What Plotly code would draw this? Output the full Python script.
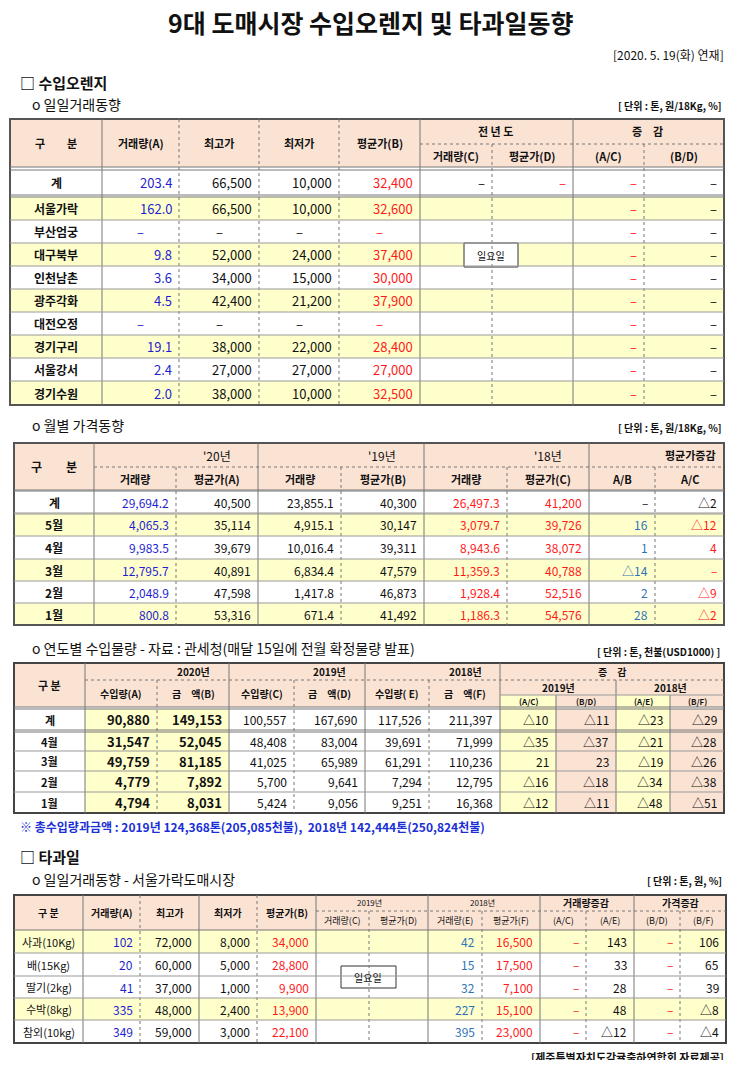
import plotly.graph_objects as go

FONT = "Noto Sans CJK KR"
PEACH = "#fbe3d4"
YEL = "#ffffcc"
BLUE = "#1f1fd0"
RED = "#ff1a1a"
SBLUE = "#2e75b6"
BLK = "#111111"

# ---- 수입오렌지 일일거래동향 ----
markets = ["서울가락", "부산엄궁", "대구북부", "인천남촌", "광주각화", "대전오정", "경기구리", "서울강서", "경기수원"]
day_vol = [162.0, None, 9.8, 3.6, 4.5, None, 19.1, 2.4, 2.0]
day_hi = [66500, None, 52000, 34000, 42400, None, 38000, 27000, 38000]
day_lo = [10000, None, 24000, 15000, 21200, None, 22000, 27000, 10000]
day_avg = [32600, None, 37400, 30000, 37900, None, 28400, 27000, 32500]
day_total = [203.4, 66500, 10000, 32400]

# ---- 월별 가격동향 ----
months = ["계", "5월", "4월", "3월", "2월", "1월"]
v20 = [29694.2, 4065.3, 9983.5, 12795.7, 2048.9, 800.8]
p20 = [40500, 35114, 39679, 40891, 47598, 53316]
v19 = [23855.1, 4915.1, 10016.4, 6834.4, 1417.8, 671.4]
p19 = [40300, 30147, 39311, 47579, 46873, 41492]
v18 = [26497.3, 3079.7, 8943.6, 11359.3, 1928.4, 1186.3]
p18 = [41200, 39726, 38072, 40788, 52516, 54576]
chg_ab = [None, 16, 1, -14, 2, 28]
chg_ac = [-2, -12, 4, None, -9, -2]

# ---- 연도별 수입물량 ----
imp_rows = ["계", "4월", "3월", "2월", "1월"]
imp_a = [90880, 31547, 49759, 4779, 4794]
imp_b = [149153, 52045, 81185, 7892, 8031]
imp_c = [100557, 48408, 41025, 5700, 5424]
imp_d = [167690, 83004, 65989, 9641, 9056]
imp_e = [117526, 39691, 61291, 7294, 9251]
imp_f = [211397, 71999, 110236, 12795, 16368]
imp_ac = [-10, -35, 21, -16, -12]
imp_bd = [-11, -37, 23, -18, -11]
imp_ae = [-23, -21, -19, -34, -48]
imp_bf = [-29, -28, -26, -38, -51]

# ---- 타과일 ----
fruits = ["사과(10Kg)", "배(15Kg)", "딸기(2kg)", "수박(8kg)", "참외(10kg)"]
fr_vol = [102, 20, 41, 335, 349]
fr_hi = [72000, 60000, 37000, 48000, 59000]
fr_lo = [8000, 5000, 1000, 2400, 3000]
fr_avg = [34000, 28800, 9900, 13900, 22100]
fr_vol18 = [42, 15, 32, 227, 395]
fr_avg18 = [16500, 17500, 7100, 15100, 23000]
fr_ae = [143, 33, 28, 48, -12]
fr_bf = [106, 65, 39, -8, -4]

fig = go.Figure()
shapes = []
notes = []


def fmt(v, dec=0):
    if v is None:
        return "–"
    s = f"{abs(v):,.{dec}f}"
    return ("△" + s) if v < 0 else s


def rect(x0, y0, x1, y1, fill=None, lw=0, lc="#444", dash="solid"):
    shapes.append(dict(type="rect", x0=x0, y0=y0, x1=x1, y1=y1, layer="below",
                       fillcolor=fill or "rgba(0,0,0,0)",
                       line=dict(width=lw, color=lc, dash=dash)))


def line(x0, y0, x1, y1, lw=1, lc="#666", dash="solid"):
    shapes.append(dict(type="line", x0=x0, y0=y0, x1=x1, y1=y1,
                       line=dict(width=lw, color=lc, dash=dash)))


def txt(x, y, s, color=BLK, size=12, anchor="center", bold=False):
    if bold:
        s = "<b>" + s + "</b>"
    notes.append(dict(x=x, y=y, text=s, showarrow=False, xanchor=anchor, yanchor="middle",
                      font=dict(family=FONT, size=size, color=color)))


def cell(xs, i, y0, y1, s, color=BLK, size=12, bold=False, align=None):
    x0, x1 = xs[i], xs[i + 1]
    if align is None:
        align = "center" if s in ("–", "") or not any(c.isdigit() for c in s) else "right"
    ym = (y0 + y1) / 2
    if align == "right":
        txt(x1 - 5, ym, s, color, size, "right", bold)
    else:
        txt((x0 + x1) / 2, ym, s, color, size, "center", bold)


# ===================== 제목 =====================
txt(370, 22, "9대 도매시장 수입오렌지 및 타과일동향", BLK, 25, bold=True)
txt(726, 54, "[2020. 5. 19(화) 연재]", BLK, 12, "right")
txt(18, 82, "□ 수입오렌지", BLK, 15, "left", bold=True)
txt(30, 104, "o 일일거래동향", BLK, 14, "left")
txt(724, 105, "[ 단위 : 톤, 원/18Kg, %]", BLK, 10, "right", bold=True)

# ===================== 표1 =====================
xs1 = [10, 102, 179, 259, 339, 420, 492, 573, 644, 724]
hy0, hym, hy1 = 119, 144, 167
rect(xs1[0], hy0, xs1[-1], hy1, PEACH)
rows1_y = [170, 195, 197, 220, 243, 266, 289, 312, 335, 358, 381, 405]
for k, m in enumerate(markets):
    y0, y1 = rows1_y[k + 2], rows1_y[k + 3]
    if k in (0, 2, 4, 6, 8):
        rect(xs1[0], y0, xs1[-1], y1, YEL)
for x in xs1[1:-1]:
    line(x, hy0 if x not in (492, 644) else hym, x, 405, 1, "#777", "dot" if x in (179, 259, 339, 492, 644) else "solid")
line(420, hym, 724, hym, 1, "#777", "dot")
line(10, hy1, 724, hy1, 1, "#777")
line(10, 170, 724, 170, 1, "#777")
line(10, 195, 724, 195, 1, "#777")
line(10, 197, 724, 197, 1, "#777")
for y in rows1_y[3:-1]:
    line(10, y, 724, y, 1, "#999")
rect(10, hy0, 724, 405, None, 2, "#555")
hdr = ["구　　분", "거래량(A)", "최고가", "최저가", "평균가(B)"]
for i, s in enumerate(hdr):
    cell(xs1, i, hy0, hy1, s, size=11, bold=True)
txt(495, 131, "전 년 도", size=11, bold=True)
txt(647, 131, "증　감", size=11, bold=True)
for i, s in zip(range(5, 9), ["거래량(C)", "평균가(D)", "(A/C)", "(B/D)"]):
    cell(xs1, i, hym, hy1, s, size=11, bold=True, align="center")
cell(xs1, 0, 170, 195, "계", bold=True)
cell(xs1, 1, 170, 195, fmt(day_total[0], 1), BLUE, 13, align="right")
cell(xs1, 2, 170, 195, fmt(day_total[1]), BLK, 13, align="right")
cell(xs1, 3, 170, 195, fmt(day_total[2]), BLK, 13, align="right")
cell(xs1, 4, 170, 195, fmt(day_total[3]), RED, 13, align="right")
for i, c in zip(range(5, 9), [BLK, RED, RED, BLK]):
    cell(xs1, i, 170, 195, "–", c, 13, align="right")
for k, m in enumerate(markets):
    y0, y1 = rows1_y[k + 2], rows1_y[k + 3]
    cell(xs1, 0, y0, y1, m, BLK, 12, bold=True)
    cell(xs1, 1, y0, y1, fmt(day_vol[k], 1), BLUE, 13, align="right" if day_vol[k] else "center")
    cell(xs1, 2, y0, y1, fmt(day_hi[k]), BLK, 13, align="right" if day_hi[k] else "center")
    cell(xs1, 3, y0, y1, fmt(day_lo[k]), BLK, 13, align="right" if day_lo[k] else "center")
    cell(xs1, 4, y0, y1, fmt(day_avg[k]), RED, 13, align="right" if day_avg[k] else "center")
    cell(xs1, 7, y0, y1, "–", RED, 13, align="right")
    cell(xs1, 8, y0, y1, "–", BLK, 13, align="right")
rect(464, 243, 518, 267, "white", 1, "#333")
txt(491, 255, "일요일", BLK, 10)

# ===================== 표2 =====================
txt(30, 425, "o 월별 가격동향", BLK, 14, "left")
txt(724, 427, "[ 단위 : 톤, 원/18Kg, %]", BLK, 10, "right", bold=True)
xs2 = [14, 94, 176, 258, 341, 424, 507, 589, 655, 724]
t0, tm, t1 = 443, 467, 490
ys2 = [491, 513, 536, 559, 581, 603, 625]
rect(14, t0, 724, t1, PEACH)
for k in range(6):
    if k in (1, 3, 5):
        rect(14, ys2[k], 724, ys2[k + 1], YEL)
for x in xs2[1:-1]:
    dotted = x in (176, 341, 507, 655)
    line(x, tm if dotted else t0, x, 625, 1, "#777", "dot" if dotted else "solid")
line(94, tm, 724, tm, 1, "#777", "dot")
line(14, t1, 724, t1, 1, "#777")
line(14, ys2[0], 724, ys2[0], 1, "#777")
for y in ys2[1:-1]:
    line(14, y, 724, y, 1, "#999")
line(14, ys2[1] + 1, 724, ys2[1] + 1, 1, "#999")
rect(14, t0, 724, 625, None, 2, "#555")
txt(54, 466, "구　　분", size=12, bold=True)
txt(217, 455, "'20년", size=12)
txt(382, 455, "'19년", size=12)
txt(548, 455, "'18년", size=12)
txt(690, 455, "평균가증감", size=11, bold=True)
for i, s in zip(range(1, 9), ["거래량", "평균가(A)", "거래량", "평균가(B)", "거래량", "평균가(C)", "A/B", "A/C"]):
    cell(xs2, i, tm, t1, s, size=11, bold=True, align="center")
for k, m in enumerate(months):
    y0, y1 = ys2[k], ys2[k + 1]
    cell(xs2, 0, y0, y1, m, BLK, 12, bold=True, align="center")
    cell(xs2, 1, y0, y1, fmt(v20[k], 1), BLUE, 12, align="right")
    cell(xs2, 2, y0, y1, fmt(p20[k]), BLK, 12, align="right")
    cell(xs2, 3, y0, y1, fmt(v19[k], 1), BLK, 12, align="right")
    cell(xs2, 4, y0, y1, fmt(p19[k]), BLK, 12, align="right")
    cell(xs2, 5, y0, y1, fmt(v18[k], 1), RED, 12, align="right")
    cell(xs2, 6, y0, y1, fmt(p18[k]), RED, 12, align="right")
    cell(xs2, 7, y0, y1, fmt(chg_ab[k]), BLK if k == 0 else SBLUE, 12, align="right")
    cell(xs2, 8, y0, y1, fmt(chg_ac[k]), BLK if k == 0 else RED, 12, align="right")

# ===================== 표3 =====================
txt(30, 648, "o 연도별 수입물량 - 자료 : 관세청(매달 15일에 전월 확정물량 발표)", BLK, 14, "left")
txt(722, 651, "[ 단위 : 톤, 천불(USD1000) ]", BLK, 10, "right", bold=True)
xs3 = [14, 85, 157, 229, 294, 365, 429, 500, 556, 616, 670, 724]
a0, am, a2, a1 = 663, 680, 695, 707
ys3 = [709, 730, 751, 771, 792, 813]
rect(14, a0, 724, a1, PEACH)
rect(85, 709, 229, 813, YEL)
rect(500, 695, 556, 813, YEL)
rect(616, 695, 670, 813, YEL)
rect(556, 709, 616, 813, PEACH)
rect(670, 709, 724, 813, PEACH)
for x in xs3[1:-1]:
    dotted = x in (157, 294, 429)
    top = a0 if x in (85, 229, 365, 500) else (am if x == 616 or dotted else a2)
    line(x, top, x, 813, 1, "#777", "dot" if dotted else "solid")
line(85, am, 724, am, 1, "#777", "dot")
line(500, a2, 724, a2, 1, "#999")
line(14, a1, 724, a1, 1, "#777")
line(14, 709, 724, 709, 1, "#777")
line(14, 730, 724, 730, 1, "#777")
line(14, 732, 724, 732, 1, "#777")
for y in ys3[2:-1]:
    line(14, y, 724, y, 1, "#999")
rect(14, a0, 724, 813, None, 2, "#444")
txt(49, 685, "구 분", size=11, bold=True)
txt(193, 671, "2020년", size=10, bold=True)
txt(329, 671, "2019년", size=10, bold=True)
txt(465, 671, "2018년", size=10, bold=True)
txt(612, 671, "증　감", size=10, bold=True)
txt(558, 687, "2019년", size=10, bold=True)
txt(670, 687, "2018년", size=10, bold=True)
for i, s in zip(range(1, 7), ["수입량(A)", "금　액(B)", "수입량(C)", "금　액(D)", "수입량( E)", "금　액(F)"]):
    cell(xs3, i, am, a1, s, size=10, bold=True, align="center")
for i, s in zip(range(7, 11), ["(A/C)", "(B/D)", "(A/E)", "(B/F)"]):
    cell(xs3, i, a2, a1, s, size=8, bold=True, align="center")
for k, m in enumerate(imp_rows):
    y0, y1 = ys3[k], ys3[k + 1]
    if k == 1:
        y0 += 2
    cell(xs3, 0, y0, y1, m, BLK, 11, bold=True, align="center")
    cell(xs3, 1, y0, y1, fmt(imp_a[k]), BLK, 13, bold=True, align="right")
    cell(xs3, 2, y0, y1, fmt(imp_b[k]), BLK, 13, bold=True, align="right")
    for i, arr in zip(range(3, 11), [imp_c, imp_d, imp_e, imp_f, imp_ac, imp_bd, imp_ae, imp_bf]):
        cell(xs3, i, y0, y1, fmt(arr[k]), BLK, 12, align="right")
txt(18, 826, "※ 총수입량과금액 : 2019년 124,368톤(205,085천불),  2018년 142,444톤(250,824천불)", "#1a2fd6", 12, "left", bold=True)

# ===================== 표4 =====================
txt(18, 856, "□ 타과일", BLK, 15, "left", bold=True)
txt(30, 879, "o 일일거래동향 - 서울가락도매시장", BLK, 14, "left")
txt(724, 880, "[ 단위 : 톤, 원, %]", BLK, 10, "right", bold=True)
xs4 = [14, 83, 140, 199, 257, 316, 369, 428, 482, 540, 586, 634, 680, 726]
b0, bm, b1 = 895, 911, 930
ys4 = [930, 953, 976, 998, 1020, 1043]
rect(14, b0, 726, b1, PEACH)
for k in (0, 3):
    rect(14, ys4[k], 726, ys4[k + 1], YEL)
for x in xs4[1:-1]:
    dotted = x in (140, 257, 369, 482, 586, 680)
    top = bm if x in (369, 482, 586, 680) else b0
    line(x, top, x, 1043, 1, "#777", "dot" if dotted else "solid")
line(316, bm, 726, bm, 1, "#777", "dot")
line(14, b1, 726, b1, 1, "#777")
for y in ys4[1:-1]:
    line(14, y, 726, y, 1, "#999")
rect(14, b0, 726, 1043, None, 2, "#444")
for i, s in enumerate(["구 분", "거래량(A)", "최고가", "최저가", "평균가(B)"]):
    cell(xs4, i, b0, b1, s, size=10, bold=True, align="center")
txt(369, 902, "2019년", size=8)
txt(482, 902, "2018년", size=8)
txt(586, 902, "거래량증감", size=10, bold=True)
txt(680, 902, "가격증감", size=10, bold=True)
for i, s in zip(range(5, 13), ["거래량(C)", "평균가(D)", "거래량(E)", "평균가(F)", "(A/C)", "(A/E)", "(B/D)", "(B/F)"]):
    cell(xs4, i, bm, b1, s, size=9, align="center")
for k, f in enumerate(fruits):
    y0, y1 = ys4[k], ys4[k + 1]
    cell(xs4, 0, y0, y1, f, BLK, 11, align="center")
    cell(xs4, 1, y0, y1, fmt(fr_vol[k]), BLUE, 12, align="right")
    cell(xs4, 2, y0, y1, fmt(fr_hi[k]), BLK, 12, align="right")
    cell(xs4, 3, y0, y1, fmt(fr_lo[k]), BLK, 12, align="right")
    cell(xs4, 4, y0, y1, fmt(fr_avg[k]), RED, 12, align="right")
    cell(xs4, 7, y0, y1, fmt(fr_vol18[k]), SBLUE, 12, align="right")
    cell(xs4, 8, y0, y1, fmt(fr_avg18[k]), RED, 12, align="right")
    cell(xs4, 9, y0, y1, "–", RED, 12, align="right")
    cell(xs4, 10, y0, y1, fmt(fr_ae[k]), BLK, 12, align="right")
    cell(xs4, 11, y0, y1, "–", RED, 12, align="right")
    cell(xs4, 12, y0, y1, fmt(fr_bf[k]), BLK, 12, align="right")
rect(341, 966, 396, 988, "white", 1, "#333")
txt(368, 977, "일요일", BLK, 10)
txt(726, 1057, "[제주특별자치도감귤출하연합회 자료제공]", BLK, 11, "right", bold=True)

# the page adds an 8px body margin, so the figure is 16px smaller and
# the axes start at 8 to keep page pixels equal to data units
fig.update_layout(
    width=724,
    height=1052,
    margin=dict(l=0, r=0, t=0, b=0),
    paper_bgcolor="white",
    plot_bgcolor="white",
    xaxis=dict(range=[8, 732], visible=False, fixedrange=True),
    yaxis=dict(range=[1060, 8], visible=False, fixedrange=True),
    shapes=shapes,
    annotations=notes,
    showlegend=False
)

fig.write_html("out.html")
